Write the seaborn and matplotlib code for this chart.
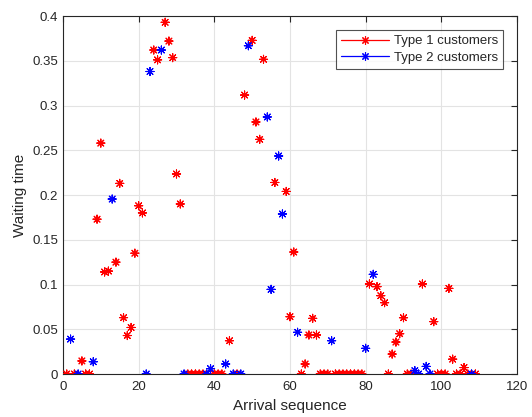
import matplotlib
matplotlib.use("Agg")
import matplotlib.pyplot as plt
from matplotlib.lines import Line2D
import seaborn as sns
import pandas as pd

# Arrival index and waiting time of each customer, split by type
type1_seq = [1, 3, 5, 6, 7, 9, 10, 11, 12, 14, 15, 16, 17, 18, 19, 20, 21, 24, 25, 27,
             28, 29, 30, 31, 33, 34, 35, 36, 37, 40, 41, 42, 44, 46, 48, 50, 51, 52, 53, 56,
             59, 60, 61, 63, 64, 65, 66, 67, 68, 69, 70, 72, 73, 74, 75, 76, 77, 78, 79, 81,
             83, 84, 85, 86, 87, 88, 89, 90, 91, 92, 95, 98, 99, 100, 101, 102, 103, 104, 105, 106,
             107, 109]
type1_wait = [0.0, 0.0, 0.0146, 0.0, 0.0, 0.173, 0.258, 0.114, 0.115, 0.125, 0.213, 0.063, 0.043, 0.052, 0.135, 0.188, 0.180, 0.362, 0.351, 0.393,
              0.372, 0.3535, 0.2235, 0.190, 0.0, 0.0, 0.0, 0.0, 0.0, 0.0, 0.0, 0.0, 0.0372, 0.0, 0.3117, 0.3728, 0.2816, 0.2622, 0.3516, 0.214,
              0.204, 0.064, 0.1363, 0.0, 0.0112, 0.0436, 0.0622, 0.0436, 0.0, 0.0, 0.0, 0.0, 0.0, 0.0, 0.0, 0.0, 0.0, 0.0, 0.0, 0.1006,
              0.0976, 0.0875, 0.0797, 0.0, 0.0223, 0.0357, 0.045, 0.0629, 0.0, 0.0, 0.1006, 0.0585, 0.0, 0.0, 0.0, 0.0957, 0.0166, 0.0, 0.0, 0.0072,
              0.0, 0.0]

type2_seq = [2, 4, 8, 13, 22, 23, 26, 32, 38, 39, 43, 45, 47, 49, 54, 55, 57, 58, 62, 71,
             80, 82, 93, 94, 96, 97, 108]
type2_wait = [0.039, 0.0, 0.0137, 0.1955, 0.0, 0.338, 0.362, 0.0, 0.0, 0.006, 0.0112, 0.0, 0.0, 0.3668, 0.2872, 0.0946, 0.2436, 0.1788, 0.0466, 0.0372,
              0.0287, 0.1114, 0.0037, 0.0, 0.0085, 0.0, 0.0]

series_names = ["Type 1 customers", "Type 2 customers"]
series_colors = ["#ff0000", "#0000ff"]

df = pd.concat([
    pd.DataFrame({"seq": type1_seq, "wait": type1_wait, "type": series_names[0]}),
    pd.DataFrame({"seq": type2_seq, "wait": type2_wait, "type": series_names[1]}),
], ignore_index=True)

sns.set_theme(style="white")
plt.rcParams["font.family"] = ["Liberation Sans", "DejaVu Sans"]

axis_color = "#262626"
fig = plt.figure(figsize=(5.32, 4.17), dpi=100)
ax = fig.add_axes([0.1184, 0.1031, 0.8534, 0.8585])

asterisk = (8, 2, 0)
palette = dict(zip(series_names, series_colors))
sns.scatterplot(data=df, x="seq", y="wait", hue="type", palette=palette,
                marker=asterisk, s=34, linewidth=0.8, legend=False, ax=ax, zorder=3)

ax.set_xlim(0, 120)
ax.set_ylim(0, 0.4)
ax.set_xticks(range(0, 121, 20))
ax.set_yticks([0, 0.05, 0.1, 0.15, 0.2, 0.25, 0.3, 0.35, 0.4])
ax.set_yticklabels(["0", "0.05", "0.1", "0.15", "0.2", "0.25", "0.3", "0.35", "0.4"])
ax.grid(True, color="#e3e3e3", linewidth=0.8)
ax.set_axisbelow(True)
ax.tick_params(direction="in", length=4, width=0.8, colors=axis_color,
               labelsize=9.5, top=True, right=True, labelcolor=axis_color)
ax.tick_params(axis="x", pad=5)
for sp in ax.spines.values():
    sp.set_color(axis_color)
    sp.set_linewidth(0.8)

ax.set_xlabel("Arrival sequence", fontsize=11, color=axis_color, labelpad=4)
ax.set_ylabel("Waiting time", fontsize=11, color=axis_color, labelpad=4)

handles = [Line2D([0], [0], color=c, marker=asterisk, markersize=6, linewidth=0.9,
                  markeredgewidth=0.8) for c in series_colors]
leg = ax.legend(handles, series_names, loc="upper right", bbox_to_anchor=(0.97, 0.962),
                borderaxespad=0, fontsize=9.5, frameon=True, fancybox=False,
                handlelength=3.6, handletextpad=0.4, borderpad=0.4, labelspacing=0.35)
leg.get_frame().set_edgecolor(axis_color)
leg.get_frame().set_linewidth(0.8)
for t in leg.get_texts():
    t.set_color(axis_color)

fig.savefig("out.png", dpi=100)
